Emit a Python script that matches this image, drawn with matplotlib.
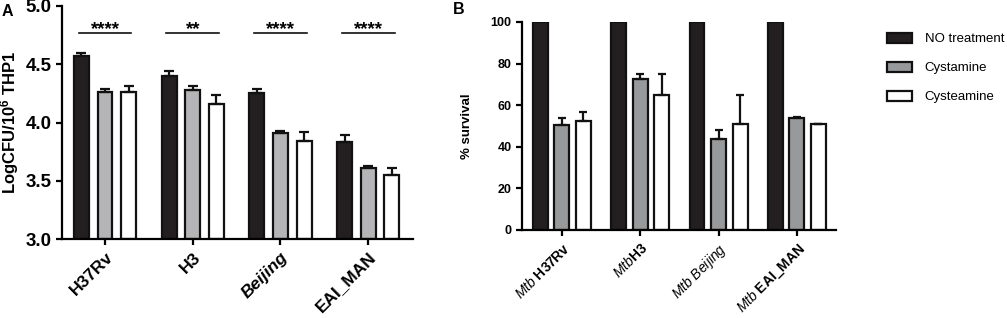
import numpy as np
import matplotlib
matplotlib.use('Agg')
import matplotlib.pyplot as plt
from matplotlib.patches import Patch

plt.rcParams['font.family'] = ['Liberation Sans', 'DejaVu Sans']
plt.rcParams['mathtext.fontset'] = 'custom'
plt.rcParams['mathtext.rm'] = 'Liberation Sans'
plt.rcParams['mathtext.it'] = 'Liberation Sans:italic'
plt.rcParams['mathtext.bf'] = 'Liberation Sans:bold'

# data
strains = ['H37Rv', 'H3', 'Beijing', 'EAI_MAN']
treatments = ['NO treatment', 'Cystamine', 'Cysteamine']

# panel A: log CFU / 10^6 THP1
cfu_none = [4.57, 4.40, 4.25, 3.83]
cfu_cystamine = [4.26, 4.28, 3.91, 3.61]
cfu_cysteamine = [4.26, 4.16, 3.84, 3.55]
cfu_none_err = [0.03, 0.04, 0.04, 0.06]
cfu_cystamine_err = [0.03, 0.03, 0.02, 0.02]
cfu_cysteamine_err = [0.05, 0.08, 0.08, 0.06]
significance = ['****', '**', '****', '****']

# panel B: % survival
surv_none = [100, 100, 100, 100]
surv_cystamine = [50.5, 72.8, 43.8, 54.0]
surv_cysteamine = [52.4, 65.1, 51.1, 50.8]
surv_none_err = [0, 0, 0, 0]
surv_cystamine_err = [3.2, 2.4, 4.4, 0.4]
surv_cysteamine_err = [4.2, 10.1, 13.8, 0.0]

colors_a = ['#231f20', '#b5b5b7', '#ffffff']
colors_b = ['#231f20', '#98999b', '#ffffff']

fig = plt.figure(figsize=(10.07, 3.18), dpi=100)
ax_a = fig.add_axes([62 / 1007, 1 - 239 / 318, (413 - 62) / 1007, (239 - 6) / 318])
ax_b = fig.add_axes([522 / 1007, 1 - 230 / 318, (836 - 522) / 1007, (230 - 22) / 318])

x = np.arange(len(strains))


def style_axis(ax, lw=1.6):
    for s in ['top', 'right']:
        ax.spines[s].set_visible(False)
    for s in ['left', 'bottom']:
        ax.spines[s].set_linewidth(lw)
    ax.tick_params(width=lw, length=4, direction='out')


# ---- Panel A ----
offset_a, width_a = 0.27, 0.17
series_a = [(cfu_none, cfu_none_err), (cfu_cystamine, cfu_cystamine_err),
            (cfu_cysteamine, cfu_cysteamine_err)]
for i, (vals, errs) in enumerate(series_a):
    pos = x + (i - 1) * offset_a
    vals = np.array(vals)
    ax_a.bar(pos, vals - 3.0, bottom=3.0, width=width_a, color=colors_a[i],
             edgecolor='#111111', linewidth=1.6, zorder=2)
    ax_a.errorbar(pos, vals, yerr=[np.zeros(len(errs)), errs], fmt='none',
                  ecolor='#111111', elinewidth=1.6, capsize=3.5, capthick=1.6, zorder=3)

# significance bars
for xi, sig in zip(x, significance):
    ax_a.plot([xi - 0.3, xi + 0.3], [4.765, 4.765], color='#111111', lw=1.2)
    ax_a.text(xi, 4.725, sig, ha='center', va='bottom', fontsize=13.5, fontweight='bold')

ax_a.set_xlim(-0.49, 3.51)
ax_a.set_ylim(3.0, 5.0)
ax_a.set_yticks([3.0, 3.5, 4.0, 4.5, 5.0])
ax_a.set_yticklabels(['3.0', '3.5', '4.0', '4.5', '5.0'], fontsize=13.5, fontweight='bold')
ax_a.set_xticks(x)
ax_a.set_xticklabels(strains, rotation=45, ha='right', va='top', rotation_mode='anchor',
                     fontsize=12.5, fontweight='bold')
ax_a.get_xticklabels()[2].set_style('italic')
ax_a.set_ylabel(r'LogCFU/10$^{\mathbf{6}}$ THP1', fontsize=12, fontweight='bold', labelpad=3)
style_axis(ax_a)
fig.text(2 / 1007, 1 - 16 / 318, 'A', fontsize=11.5, fontweight='bold')

# ---- Panel B ----
offset_b, width_b = 0.275, 0.19
series_b = [(surv_none, surv_none_err), (surv_cystamine, surv_cystamine_err),
            (surv_cysteamine, surv_cysteamine_err)]
for i, (vals, errs) in enumerate(series_b):
    pos = x + (i - 1) * offset_b
    ax_b.bar(pos, vals, width=width_b, color=colors_b[i],
             edgecolor='#111111', linewidth=1.6, zorder=2, label=treatments[i])
    if i > 0:
        ax_b.errorbar(pos, vals, yerr=[np.zeros(len(errs)), errs], fmt='none',
                      ecolor='#111111', elinewidth=1.6, capsize=3, capthick=1.6, zorder=3)

ax_b.set_xlim(-0.51, 3.50)
ax_b.set_ylim(0, 100)
ax_b.set_yticks([0, 20, 40, 60, 80, 100])
ax_b.set_yticklabels(['0', '20', '40', '60', '80', '100'], fontsize=9, fontweight='bold')
labels_b = [r'$\mathit{Mtb}\ \mathbf{H37Rv}$', r'$\mathit{Mtb}\mathbf{H3}$',
            r'$\mathit{Mtb\ Beijing}$', r'$\mathit{Mtb}\ \mathbf{EAI\_MAN}$']
ax_b.set_xticks(x)
ax_b.set_xticklabels(labels_b, rotation=45, ha='right', va='top', rotation_mode='anchor',
                     fontsize=10)
ax_b.set_ylabel('% survival', fontsize=9.5, fontweight='bold', labelpad=13)
style_axis(ax_b)
fig.text(453 / 1007, 1 - 14 / 318, 'B', fontsize=11.5, fontweight='bold')

handles = [Patch(facecolor=colors_b[i], edgecolor='#111111', linewidth=1.6, label=treatments[i])
           for i in range(3)]
fig.legend(handles=handles, loc='upper left', bbox_to_anchor=(880 / 1007, 1 - 26 / 318),
           frameon=False, fontsize=9.5, handlelength=1.9, handleheight=0.8,
           labelspacing=1.25, handletextpad=1.0, borderpad=0)

fig.savefig('out.png', dpi=100)
